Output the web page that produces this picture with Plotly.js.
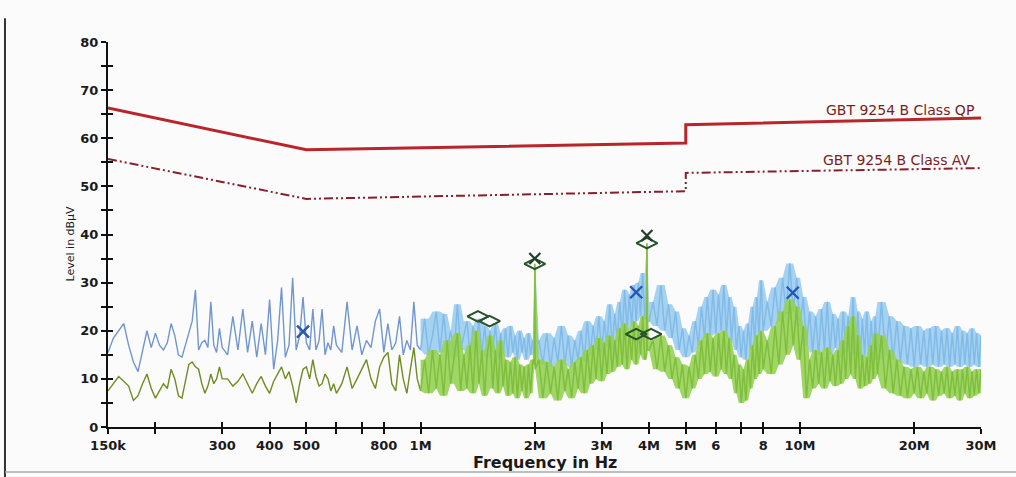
<!DOCTYPE html>
<html>
<head>
<meta charset="utf-8">
<script src="https://cdn.plot.ly/plotly-3.0.1.min.js"></script>
<style>
  html, body { margin: 0; padding: 0; background: #fcfbfb; }
  #chart { width: 1016px; height: 477px; }
</style>
</head>
<body>
<div id="chart"></div>
<script>
// Sweep frequencies (kHz)
const freqKHz = [
  150,155,160,165,170,175,180,185,190,195,200,205,210,215,220,225,230,235,240,245,250,255,260,265,270,275,280,285,290,295,300,
  310,320,330,340,350,360,370,380,390,400,410,420,430,440,450,460,470,480,490,500,510,520,530,540,550,560,570,580,590,600,
  620,640,660,680,700,720,740,760,780,800,820,840,860,880,900,920,940,960,980,1000,
  1025,1050,1075,1100,1125,1150,1175,1200,1225,1250,1275,1300,1325,1350,1375,1400,1425,1450,1475,1500,
  1525,1550,1575,1600,1625,1650,1675,1700,1725,1750,1775,1800,1825,1850,1875,1900,1925,1950,1975,1995,2000,2005,
  2050,2100,2150,2200,2250,2300,2350,2400,2450,2500,2550,2600,2650,2700,2750,2800,2850,2900,2950,3000,
  3050,3100,3150,3200,3250,3300,3350,3400,3450,3500,3550,3600,3650,3700,3750,3800,3850,3900,3945,3950,3955,4000,
  4100,4200,4300,4400,4500,4600,4700,4800,4900,5000,5100,5200,5300,5400,5500,5600,5700,5800,5900,6000,
  6100,6200,6300,6400,6500,6600,6700,6800,6900,7000,7100,7200,7300,7400,7500,7600,7700,7800,7900,8000,
  8200,8400,8600,8800,9000,9200,9400,9600,9800,10000,10200,10400,10600,10800,11000,11200,11400,11600,11800,12000,
  12200,12400,12600,12800,13000,13200,13400,13600,13800,14000,14200,14400,14600,14800,15000,15200,15400,15600,15800,16000,
  16400,16800,17200,17600,18000,18400,18800,19200,19600,20000,20400,20800,21200,21600,22000,22400,22800,23200,23600,24000,
  24400,24800,25200,25600,26000,26400,26800,27200,27600,28000,28400,28800,29200,29600,30000
];

// Peak detector trace (dBµV)
const peakDb = [
  15.5,18.5,20,21.5,17,13.5,11.5,15.5,20,16.5,19.5,17,16,17.5,21.5,19,15,14.5,17,20,22,28.5,16,17.5,18,16.5,26,17,15.5,20.5,16.5,
  15,23,16,24.5,15.5,22,14.5,21.5,15,26.5,12,18,29,14.5,17,31,16,19,27,17.5,16,24.5,16,18,24.5,15,17.5,16,21,17,
  15.5,26,16,21,15,18,16.5,22,24.5,15.5,21.5,16,17.5,23,15,18,16,26,17,16,
  22.5,15,19,24,15.5,23.5,16,20,14.5,25.5,16,19,22,15,21,16.5,22.5,15,21,14.5,
  20,15.5,21.5,14,19.5,15,20.5,14.5,21,15.5,19,14,20,15.5,18.5,14,19.5,15,18,15,33.5,16,
  18,13,19.5,12.5,18.5,13.5,21,13,19,12.5,18,14,20,13.5,22,15,21,16,23,15.5,
  22,17,25.5,16,23.5,18,26,19,28.5,20,27.5,21,29.5,22,30,23,32,22.5,23,38,22,22,
  26,21,29.5,20,25.5,18.5,24,16,20.5,14.5,19,15.5,22,17,25,18.5,27,19,28.5,19.5,
  27.5,20,29.5,19,27,18,25,16,21,14.5,20,14,21.5,16,25,17.5,27,19,30.5,20,
  26,21,29,22,31,23.5,34,24,31,21,27,17,24,15.5,23,15,24.5,16,26,15,
  23.5,16.5,22.5,14.5,24,15.5,23,16,27,15,24,14,22.5,15,24,13.5,22,15,23,14,
  26,15,23,14,22,13.5,21,13,20.5,12.5,21,13,20,12.5,20.5,13,21,12.5,20,13,
  20.5,12.5,19.5,13,21,12.5,20,13,19.5,12.5,20.5,13,19.5,12.5,19
];

// Average detector trace (dBµV)
const avgDb = [
  7.5,9,10.5,9.5,8.5,5.5,6.5,9,11,8,6,7.5,9,8,12,10,6.5,6,9.5,13,13.5,12.5,12,9,7,8.5,11,9,10,12.5,10,
  10,8.5,9.5,11,9,7,9,10.5,8.5,7,9.5,11,12.5,10,11.5,8.5,5,9,12,12.5,10,14,10.5,8.5,9,11,10,7.5,9,7,
  9,12.5,8,10,12,14,10,8,12.5,14.5,15.5,9,7.5,15,10,7,12,16.5,10,7.5,
  14,7,16,8,15,6.5,18,9,14,19.5,7.5,15,8,17,7,20,9,16,6.5,15.5,
  19,8,16,7,18,8.5,14,6.5,13.5,7,14.5,6,13,7.5,12.5,6,13,7,14,13,33.9,12,
  14,6,13.5,7,12.5,5.5,14,7.5,12,6,13.5,8,14.5,7,16,9,17,10,18.5,9.5,
  17.5,11,19,11.5,18,12.5,20.5,13,21.5,12,20,14,22,13,21,15,23,14,15,38.2,16,16,
  18,12,19,11.5,17,10,14.5,8,13,6,12.5,8,15,10,18,11,19.5,11.5,18.5,10.5,
  19.5,12,20,11,18.5,10,15,7,13,5,12,5.5,14,8,17,10,19,11,20,12,
  18,11,21,13,24,15,26.5,17,25,14,21,6,14,8,16,9,15.5,8,16.5,9.5,
  15,8.5,16,9,18,10,21,11,23,10,19,8,15,8.5,14.5,9,17,10,19.5,11,
  19,8,16,7,14,6.5,12.5,6,12,7,12.5,6,11.5,7,12.5,5.5,12,6.5,11.5,7,
  12.5,6,11.5,6.5,12,5.5,12,7,12.5,6,11.5,6.5,12,7,12
];

// Limit lines
const qpFreqKHz = [150, 500, 5000, 5000, 30000];
const qpLimitDb = [66.3, 57.6, 59.0, 62.8, 64.2];
const avFreqKHz = [150, 500, 5000, 5000, 30000];
const avLimitDb = [55.7, 47.4, 49.0, 52.8, 53.8];

// Final measurement markers
const peakMarkFreqKHz = [490, 3700, 9570];
const peakMarkDb = [19.8, 28.0, 27.9];
const qpMarkFreqKHz = [2000, 3950];
const qpMarkDb = [35.0, 39.8];
const avgMarkFreqKHz = [1416, 1520, 2000, 3700, 4050, 3950];
const avgMarkDb = [23.0, 22.0, 33.9, 19.3, 19.3, 38.2];

// Axis ticks
const xTickVals = [150,200,300,400,500,600,700,800,1000,2000,3000,4000,5000,6000,7000,8000,10000,20000,30000];
const xTickText = ["150k","","300","400","500","","","800","1M","2M","3M","4M","5M","6","","8","10M","20M","30M"];
const yTickVals = [0,5,10,15,20,25,30,35,40,45,50,55,60,65,70,75,80];
const yTickText = ["0","","10","","20","","30","","40","","50","","60","","70","","80"];

const qpLabel = "GBT 9254 B Class QP";
const avLabel = "GBT 9254 B Class AV";

// split low / high band (colours differ in the reference)
const split = freqKHz.findIndex(f => f > 1000);
const bandStart = freqKHz.findIndex(f => f >= 1000);
const lowF = freqKHz.slice(0, split), highF = freqKHz.slice(split - 1);
const lowP = peakDb.slice(0, split), highP = peakDb.slice(split - 1);
const lowA = avgDb.slice(0, split), highA = avgDb.slice(split - 1);

// envelope of the dense sweep (neighbouring max/min) for the filled band look
function envelope(arr, from, fn) {
  const out = [];
  for (let i = from; i < arr.length; i++) {
    const a = arr[Math.max(0, i - 1)], b = arr[i], c = arr[Math.min(arr.length - 1, i + 1)];
    out.push(fn(a, b, c));
  }
  return out;
}
const bandF = freqKHz.slice(bandStart);
const pHi = envelope(peakDb, bandStart, Math.max), pLo = envelope(peakDb, bandStart, Math.min);
const aHi = envelope(avgDb, bandStart, Math.max), aLo = envelope(avgDb, bandStart, Math.min);

const xRange = [Math.log10(150), Math.log10(30000)];
const noLine = {width: 0, color: 'rgba(0,0,0,0)'};

const traces = [
  {x: bandF, y: pLo, type: 'scatter', mode: 'lines', line: noLine, hoverinfo: 'skip'},
  {x: bandF, y: pHi, type: 'scatter', mode: 'lines', line: noLine, fill: 'tonexty', fillcolor: 'rgba(150,202,240,0.85)', hoverinfo: 'skip'},
  {x: lowF, y: lowP, type: 'scatter', mode: 'lines', line: {color: '#7196cf', width: 1.4}, hoverinfo: 'skip'},
  {x: highF, y: highP, type: 'scatter', mode: 'lines', line: {color: '#82bbe8', width: 1.5}, hoverinfo: 'skip'},
  {x: bandF, y: aLo, type: 'scatter', mode: 'lines', line: noLine, hoverinfo: 'skip'},
  {x: bandF, y: aHi, type: 'scatter', mode: 'lines', line: noLine, fill: 'tonexty', fillcolor: 'rgba(150,210,85,0.9)', hoverinfo: 'skip'},
  {x: lowF, y: lowA, type: 'scatter', mode: 'lines', line: {color: '#6f8c22', width: 1.4}, hoverinfo: 'skip'},
  {x: highF, y: highA, type: 'scatter', mode: 'lines', line: {color: '#80be3e', width: 1.5}, hoverinfo: 'skip'},
  {x: qpFreqKHz, y: qpLimitDb, xaxis: 'x2', yaxis: 'y2', type: 'scatter', mode: 'lines',
   line: {color: '#b8262b', width: 3}},
  {x: avFreqKHz, y: avLimitDb, xaxis: 'x2', yaxis: 'y2', type: 'scatter', mode: 'lines',
   line: {color: '#85202c', width: 2, dash: '9px,3px,2px,3px,2px,3px'}},
  {x: avgMarkFreqKHz, y: avgMarkDb, type: 'scatter', mode: 'markers',
   marker: {symbol: 'diamond-wide-open', size: 15, color: '#27522a', line: {width: 2, color: '#27522a'}}},
  {x: qpMarkFreqKHz, y: qpMarkDb, type: 'scatter', mode: 'markers',
   marker: {symbol: 'x-thin-open', size: 11, color: '#1f3f2a', line: {width: 2.2, color: '#1f3f2a'}}},
  {x: peakMarkFreqKHz, y: peakMarkDb, type: 'scatter', mode: 'markers',
   marker: {symbol: 'x-thin-open', size: 12, color: '#2457b4', line: {width: 2.4, color: '#2457b4'}}}
];

const axisFont = {family: 'DejaVu Sans', size: 13, color: '#1a1a1a', weight: 'bold'};

const layout = {
  width: 1016, height: 477,
  margin: {l: 108, r: 35, t: 42, b: 50},
  paper_bgcolor: '#fcfbfb', plot_bgcolor: 'rgba(0,0,0,0)',
  showlegend: false,
  font: {family: 'DejaVu Sans', color: '#1a1a1a'},
  xaxis: {type: 'log', range: xRange, tickmode: 'array', tickvals: xTickVals, ticktext: xTickText,
          ticks: 'outside', ticklen: 5, tickwidth: 2, tickcolor: '#111', showline: true, linewidth: 2,
          linecolor: '#111', showgrid: false, zeroline: false, tickfont: axisFont, tickangle: 0},
  yaxis: {range: [0, 80], tickmode: 'array', tickvals: yTickVals, ticktext: yTickText,
          ticks: 'outside', ticklen: 5, tickwidth: 2, tickcolor: '#111', showline: true, linewidth: 2,
          linecolor: '#111', showgrid: false, zeroline: false, tickfont: axisFont},
  xaxis2: {type: 'log', range: xRange, overlaying: 'x', anchor: 'y2', side: 'bottom', tickmode: 'array',
           tickvals: xTickVals, ticks: 'inside', ticklen: 5, tickwidth: 2, tickcolor: '#111',
           showticklabels: false, showline: false, showgrid: false, zeroline: false},
  yaxis2: {range: [0, 80], overlaying: 'y', anchor: 'x2', side: 'left', tickmode: 'array',
           tickvals: yTickVals, ticks: 'inside', ticklen: 5, tickwidth: 2, tickcolor: '#111',
           showticklabels: false, showline: false, showgrid: false, zeroline: false},
  annotations: [
    {text: qpLabel, xref: 'paper', x: 0.993, xanchor: 'right', yref: 'y', y: 64.1, yanchor: 'bottom',
     showarrow: false, font: {family: 'DejaVu Sans', size: 14, color: '#7a1c24'}, borderpad: 0},
    {text: avLabel, xref: 'paper', x: 0.99, xanchor: 'right', yref: 'y', y: 53.6, yanchor: 'bottom',
     showarrow: false, font: {family: 'DejaVu Sans', size: 14, color: '#7a1c24'}, borderpad: 0},
    {text: 'Level in dBµV', xref: 'paper', x: -0.0527, yref: 'paper', y: 0.478, textangle: -90,
     showarrow: false, font: {family: 'DejaVu Sans', size: 11, color: '#1a1a1a'}},
    {text: 'Frequency in Hz', xref: 'paper', x: 0.5, yref: 'paper', y: -0.0935, yanchor: 'middle',
     showarrow: false, font: {family: 'DejaVu Sans', size: 16, color: '#1a1a1a', weight: 'bold'}}
  ],
  shapes: [
    {type: 'line', xref: 'paper', yref: 'paper', x0: -0.118, x1: -0.118, y0: 1.062, y1: -0.13,
     line: {color: '#333', width: 2}},
    {type: 'line', xref: 'paper', yref: 'paper', x0: -0.118, x1: 1.04, y0: -0.117, y1: -0.117,
     line: {color: '#aaa', width: 1.5}}
  ]
};

Plotly.newPlot('chart', traces, layout, {displayModeBar: false, staticPlot: true});
</script>
</body>
</html>
